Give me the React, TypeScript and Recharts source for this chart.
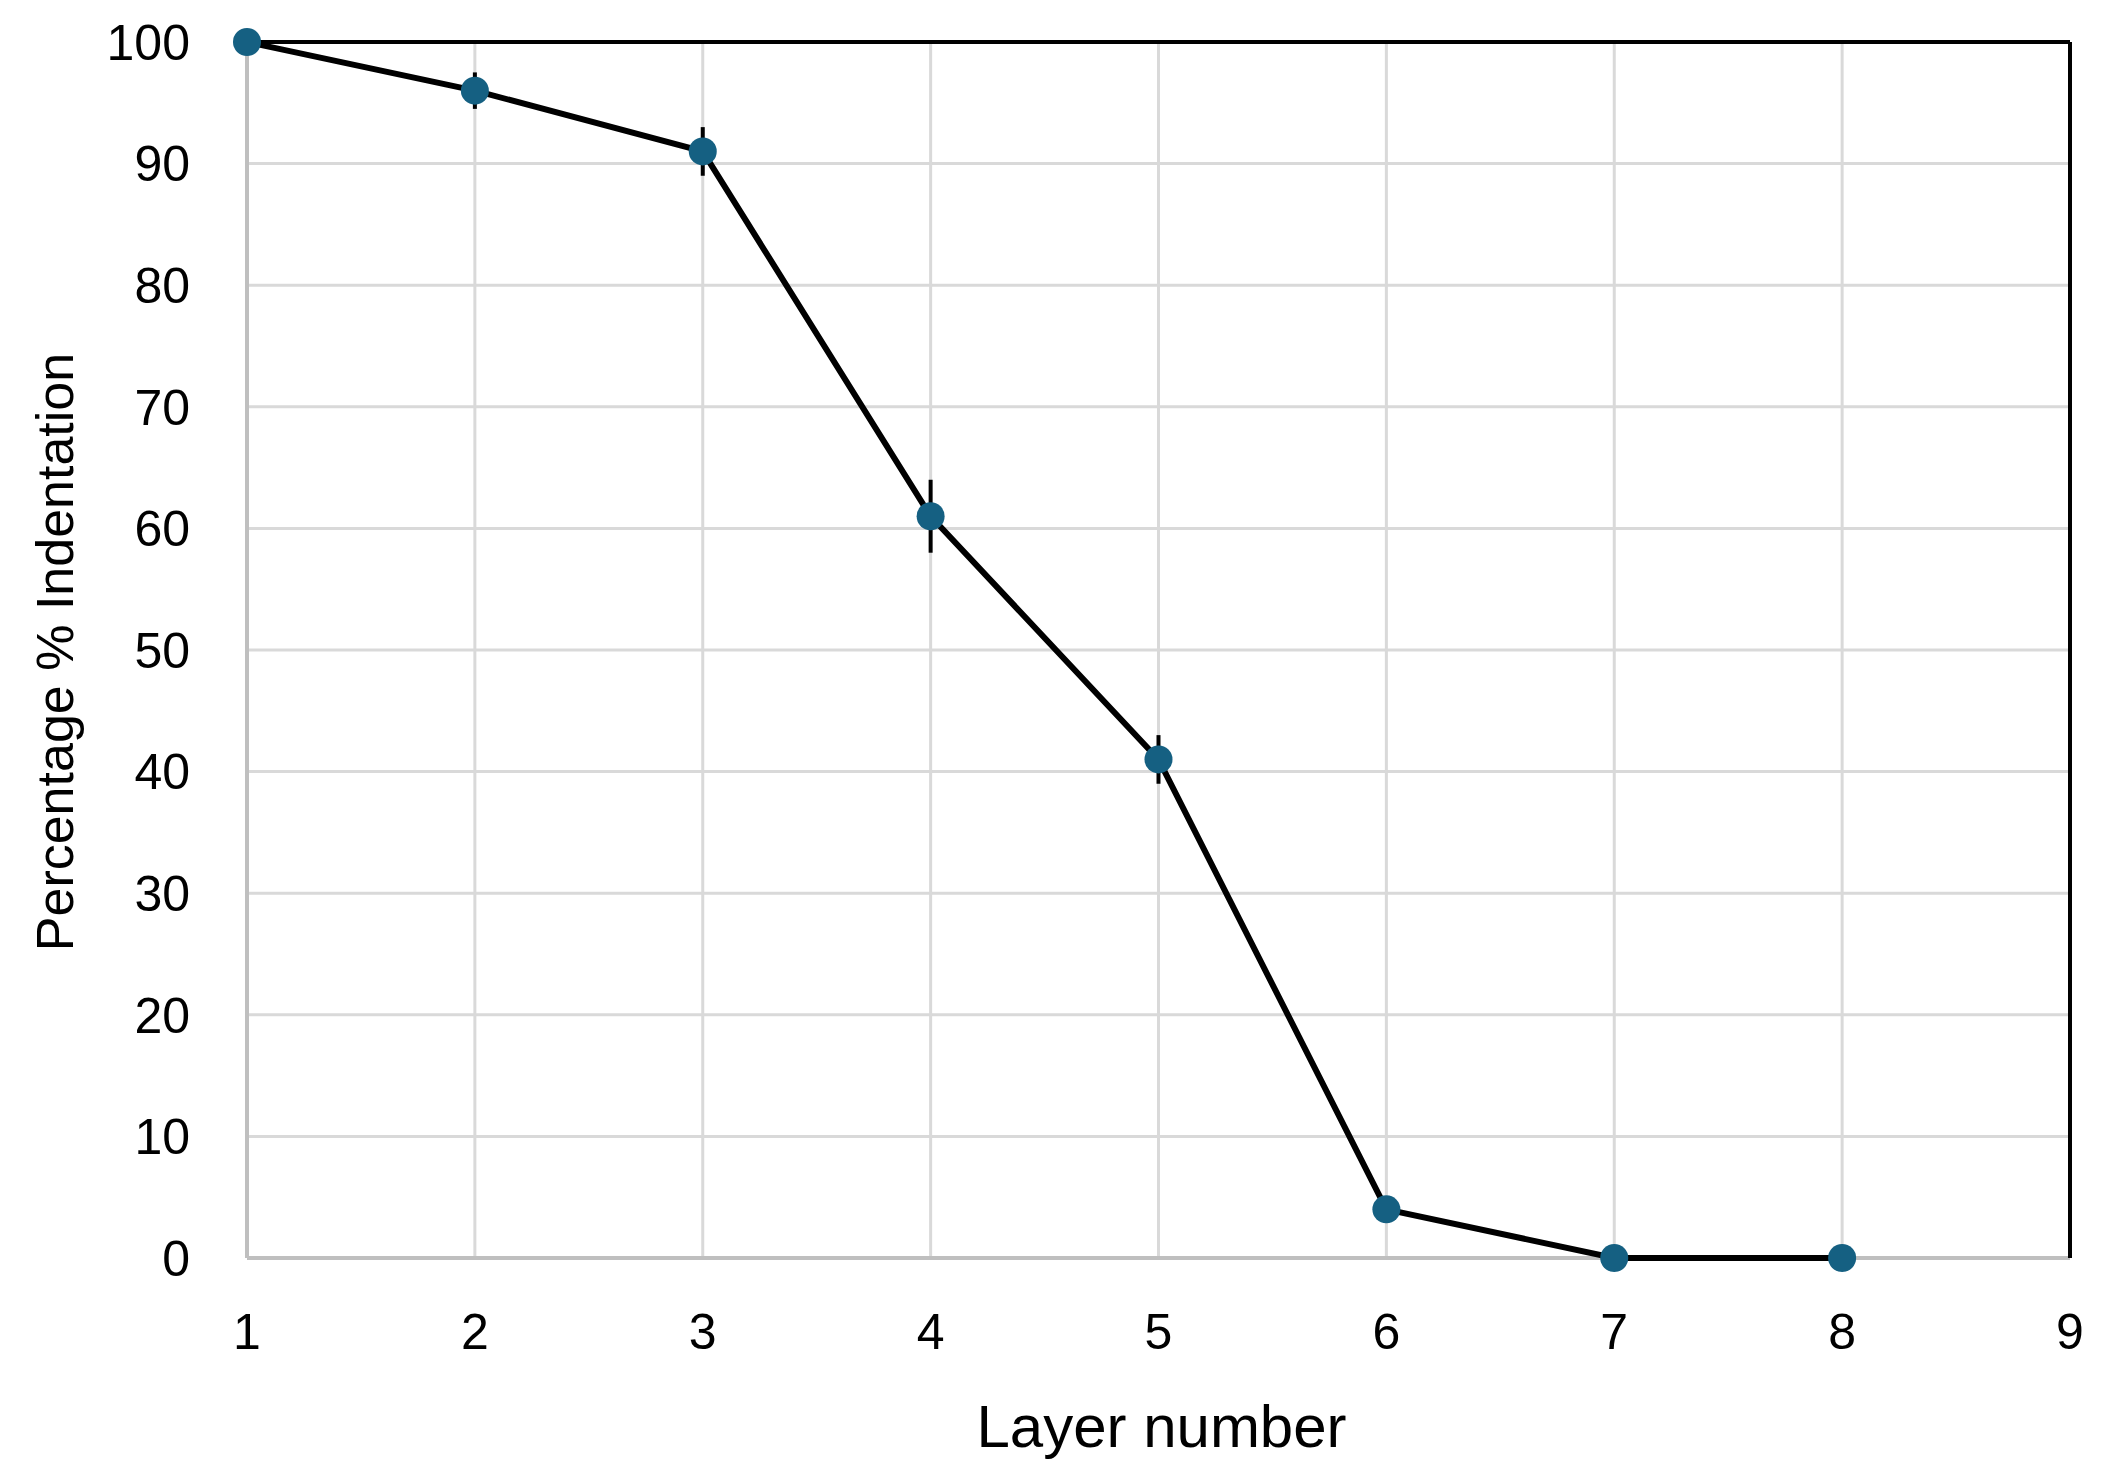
import { LineChart, Line, XAxis, YAxis, CartesianGrid, ErrorBar, ReferenceLine } from "recharts"

const layers = [1, 2, 3, 4, 5, 6, 7, 8]
const indentation = [100, 96, 91, 61, 41, 4, 0, 0]
const errors = [0, 1.5, 2, 3, 2, 1, 0, 0]
const xTicks = [1, 2, 3, 4, 5, 6, 7, 8, 9]
const yTicks = [0, 10, 20, 30, 40, 50, 60, 70, 80, 90, 100]

const data = layers.map((layer, i) => ({
  layer,
  value: indentation[i],
  err: errors[i],
}))

const FONT = "'Liberation Sans', Arial, sans-serif"

// gray left/bottom edges, drawn as grid lines so the series sits on top
const bottomEdge = (p: any) => {
  const o = p && p.offset
  return o ? [o.top + o.height] : []
}
const leftEdge = (p: any) => {
  const o = p && p.offset
  return o ? [o.left] : []
}

export default function App() {
  return (
    <div
      style={{
        position: "absolute",
        left: 0,
        top: 0,
        width: 2110,
        height: 1480,
        background: "#ffffff",
        fontFamily: FONT,
      }}
    >
      <LineChart
        width={2110}
        height={1480}
        data={data}
        margin={{ top: 42, right: 40, left: 0, bottom: 0 }}
      >
        <CartesianGrid stroke="#d9d9d9" strokeWidth={3} />
        <CartesianGrid
          stroke="#bfbfbf"
          strokeWidth={4}
          horizontalCoordinatesGenerator={bottomEdge}
          verticalCoordinatesGenerator={leftEdge}
        />
        <XAxis
          dataKey="layer"
          type="number"
          domain={[1, 9]}
          ticks={xTicks}
          interval={0}
          height={222}
          tickLine={false}
          tickSize={0}
          tickMargin={55}
          axisLine={false}
          tick={{ fill: "#000000", fontSize: 50, fontFamily: FONT }}
          label={({ viewBox }: any) => (
            <text
              x={viewBox.x + viewBox.width / 2 + 3}
              y={1447}
              textAnchor="middle"
              fill="#000000"
              fontSize={60}
              fontFamily={FONT}
            >
              Layer number
            </text>
          )}
        />
        <YAxis
          type="number"
          domain={[0, 100]}
          ticks={yTicks}
          interval={0}
          width={247}
          tickLine={false}
          tickSize={0}
          tickMargin={57}
          axisLine={false}
          tick={{ fill: "#000000", fontSize: 50, fontFamily: FONT }}
          label={() => (
            <text
              x={73}
              y={652}
              transform="rotate(-90, 73, 652)"
              textAnchor="middle"
              fill="#000000"
              fontSize={52}
              fontFamily={FONT}
            >
              Percentage % Indentation
            </text>
          )}
        />
        <ReferenceLine y={100} stroke="#000000" strokeWidth={4} />
        <ReferenceLine x={9} stroke="#000000" strokeWidth={4} />
        <Line
          type="linear"
          dataKey="value"
          stroke="#000000"
          strokeWidth={6}
          dot={{ r: 14, fill: "#156082", stroke: "none" }}
          activeDot={false}
          isAnimationActive={false}
        >
          <ErrorBar dataKey="err" direction="y" width={0} stroke="#000000" strokeWidth={4} />
        </Line>
      </LineChart>
    </div>
  )
}
